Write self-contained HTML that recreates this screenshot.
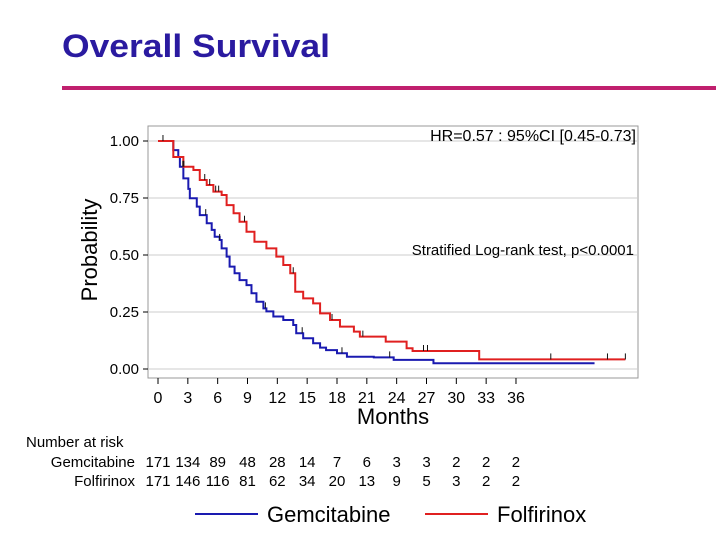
<!DOCTYPE html>
<html><head><meta charset="utf-8"><style>
body{margin:0;background:#fff;font-family:"Liberation Sans",sans-serif}
svg text{font-family:"Liberation Sans",sans-serif}
</style></head><body>
<svg width="720" height="540" id="c">
<text x="62" y="57" font-size="32" font-weight="bold" fill="#2a1aa0" textLength="268" lengthAdjust="spacingAndGlyphs">Overall Survival</text>
<rect x="62" y="86" width="654" height="4" fill="#c0206e"/>
<rect x="148" y="126" width="490" height="252" fill="none" stroke="#999"/>
<g id="grid"></g><g id="curves"></g><g id="axes"></g>
<text transform="translate(97,250) rotate(-90)" text-anchor="middle" font-size="22">Probability</text>
<text x="393" y="424" text-anchor="middle" font-size="22">Months</text>
<text x="636" y="141" text-anchor="end" font-size="16">HR=0.57 : 95%CI [0.45-0.73]</text>
<text x="634" y="255" text-anchor="end" font-size="15">Stratified Log-rank test, p&lt;0.0001</text>
<text x="26" y="447" font-size="15">Number at risk</text>
<text x="135" y="467" text-anchor="end" font-size="15">Gemcitabine</text>
<text x="135" y="486" text-anchor="end" font-size="15">Folfirinox</text>
<g id="risk"></g>
<line x1="195" y1="514" x2="258" y2="514" stroke="#1a1ab0" stroke-width="2"/>
<text x="267" y="522" font-size="22">Gemcitabine</text>
<line x1="425" y1="514" x2="488" y2="514" stroke="#e02020" stroke-width="2"/>
<text x="497" y="522" font-size="22">Folfirinox</text>
</svg>
<script>
const xTicks=[0,3,6,9,12,15,18,21,24,27,30,33,36];
const yTicks=[0,0.25,0.5,0.75,1.0];
const yTickLabels=["0.00","0.25","0.50","0.75","1.00"];
const gemT=[0,0.54,1.54,2.04,2.2,2.55,3.05,3.2,3.9,4.2,4.9,5.4,5.7,6.2,6.4,6.9,7.2,7.7,8.2,8.9,9.4,9.9,10.6,10.9,11.6,12.6,13.6,13.9,14.6,15.6,16.3,16.9,18.0,19.0,21.7,23.7,27.7,43.9];
const gemS=[1.0,1.0,0.96,0.93,0.887,0.836,0.79,0.749,0.712,0.675,0.639,0.61,0.58,0.566,0.529,0.493,0.449,0.42,0.39,0.368,0.332,0.295,0.266,0.253,0.23,0.215,0.193,0.157,0.135,0.113,0.094,0.083,0.069,0.054,0.051,0.04,0.025,0.025];
const folT=[0,1.54,2.55,3.56,4.2,4.9,5.57,6.4,6.9,7.6,8.2,8.9,9.7,10.9,11.9,12.6,13.3,13.8,14.6,15.6,16.3,17.3,18.3,19.7,20.3,22.9,25,25.6,28.3,32.3,47];
const folS=[1.0,0.93,0.887,0.873,0.829,0.807,0.778,0.763,0.719,0.683,0.646,0.602,0.558,0.529,0.493,0.456,0.42,0.339,0.31,0.288,0.244,0.215,0.186,0.164,0.142,0.12,0.091,0.079,0.079,0.042,0.042];
const gemCens=[0.5,2.5,4.8,6.2,10.8,14.5,18.5,23.3];
const folCens=[2.6,4.7,5.2,5.8,6.1,8.7,13.6,17.5,20.6,26.7,27.1,39.5,45.2,47];
const riskGem=[171,134,89,48,28,14,7,6,3,3,2,2,2];
const riskFol=[171,146,116,81,62,34,20,13,9,5,3,2,2];
const NS="http://www.w3.org/2000/svg";
const X=m=>158+m*9.944, Y=s=>369-s*228;
function mk(tag,attrs,parent){const e=document.createElementNS(NS,tag);for(const k in attrs)e.setAttribute(k,attrs[k]);document.getElementById(parent).appendChild(e);return e;}
yTicks.forEach((v,i)=>{
 let g=mk('line',{x1:148,x2:638,y1:Y(v),y2:Y(v),stroke:'#ccc'},'grid');
 
 
 let t=mk('line',{x1:143,x2:148,y1:Y(v),y2:Y(v),stroke:'#000'},'axes');
 
 
 let l=mk('text',{x:139,y:Y(v)+5,'text-anchor':'end','font-size':15},'axes');l.textContent=yTickLabels[i];
 
 
});
xTicks.forEach((v,i)=>{
 let t=mk('line',{x1:X(v),x2:X(v),y1:378,y2:384,stroke:'#000'},'axes');
 
 
 let l=mk('text',{x:X(v),y:403,'text-anchor':'middle','font-size':16},'axes');l.textContent=v;
 
 
 let a=mk('text',{x:X(v),y:467,'text-anchor':'middle','font-size':15},'risk');a.textContent=riskGem[i];
 
 
 let b=mk('text',{x:X(v),y:486,'text-anchor':'middle','font-size':15},'risk');b.textContent=riskFol[i];
 
 
});
function surv(T,S,m){let s=S[0];for(let i=0;i<T.length;i++){if(T[i]<=m)s=S[i];}return s;}
function step(T,S){let d='M'+X(T[0])+','+Y(S[0]);for(let i=1;i<T.length;i++){d+=' H'+X(T[i])+' V'+Y(S[i]);}return d;}
let pg=mk('path',{d:step(gemT,gemS),fill:'none',stroke:'#1a1ab0','stroke-width':2},'curves');


let pf=mk('path',{d:step(folT,folS),fill:'none',stroke:'#e02020','stroke-width':2},'curves');


gemCens.forEach(m=>{let y=Y(surv(gemT,gemS,m));let c=mk('line',{x1:X(m),x2:X(m),y1:y-6,y2:y,stroke:'#111'},'curves');
 
 });
folCens.forEach(m=>{let y=Y(surv(folT,folS,m));let c=mk('line',{x1:X(m),x2:X(m),y1:y-6,y2:y,stroke:'#111'},'curves');
 
 });
</script>
</body></html>
